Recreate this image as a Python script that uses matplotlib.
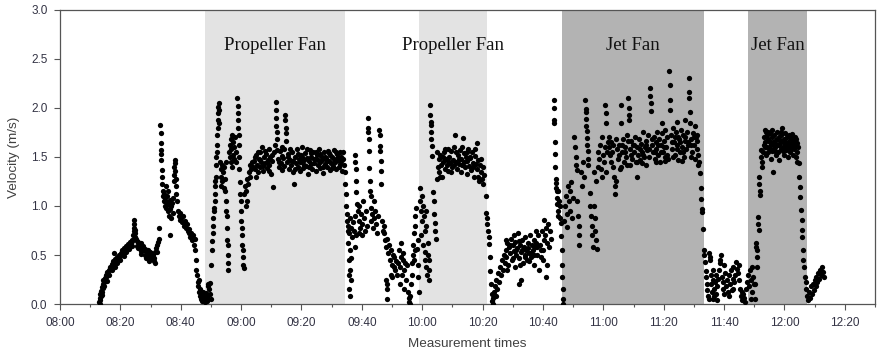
import matplotlib
matplotlib.use("Agg")
from matplotlib import pyplot as plt
from matplotlib.ticker import MultipleLocator, FuncFormatter

# time in minutes after 08:00, velocity in m/s
before_fan = [
    (13.0, 0.02), (13.1, 0.06), (13.2, 0.10), (13.3, 0.04), (13.5, 0.13), (13.6, 0.08), (13.8, 0.17),
    (13.9, 0.12), (14.1, 0.20), (14.2, 0.16), (14.4, 0.24), (14.6, 0.22), (14.8, 0.27), (15.0, 0.25),
    (15.2, 0.30), (15.4, 0.28), (15.7, 0.33), (15.9, 0.31), (16.2, 0.35), (16.5, 0.38), (16.8, 0.37),
    (17.1, 0.41), (17.4, 0.40), (17.7, 0.44), (18.0, 0.43), (18.3, 0.46), (18.6, 0.45), (18.9, 0.48),
    (17.9, 0.52), (19.2, 0.47), (19.5, 0.50), (19.8, 0.49), (20.1, 0.52), (20.4, 0.51), (20.7, 0.55),
    (21.0, 0.53), (21.3, 0.57), (21.6, 0.56), (21.9, 0.59), (22.2, 0.58), (22.5, 0.61), (22.8, 0.60),
    (23.1, 0.63), (23.4, 0.62), (23.7, 0.65), (24.0, 0.64), (24.3, 0.70), (24.4, 0.74), (24.5, 0.78),
    (13.4, 0.00), (14.0, 0.09), (14.7, 0.18), (15.5, 0.23), (16.3, 0.30), (17.2, 0.35), (18.1, 0.38),
    (19.0, 0.42), (20.0, 0.45), (21.1, 0.49), (22.0, 0.53), (23.0, 0.56), (23.9, 0.59),
    (24.5, 0.82), (24.6, 0.86), (24.7, 0.76), (24.8, 0.72), (24.8, 0.68), (25.2, 0.66), (25.5, 0.64),
    (25.8, 0.63), (26.1, 0.61), (26.4, 0.60), (26.7, 0.62), (27.0, 0.58), (27.3, 0.57), (27.6, 0.59),
    (27.9, 0.55), (28.2, 0.56), (28.5, 0.54), (28.8, 0.52), (29.1, 0.55), (29.4, 0.51), (29.7, 0.53),
    (30.0, 0.50), (30.3, 0.52), (30.6, 0.48), (30.9, 0.50), (31.2, 0.47), (31.0, 0.44), (31.5, 0.53),
    (31.8, 0.57), (32.1, 0.60), (32.4, 0.63), (32.7, 0.66), (28.0, 0.50), (29.0, 0.48), (30.0, 0.46),
    (26.0, 0.57), (27.0, 0.54), (32.9, 0.78), (25.6, 0.59), (26.9, 0.51), (28.4, 0.47), (29.6, 0.44),
    (31.4, 0.42), (32.2, 0.53),
    (33.2, 1.83), (33.3, 1.74), (33.4, 1.64), (33.5, 1.57), (33.5, 1.53), (33.6, 1.47), (33.7, 1.37),
    (33.8, 1.30), (33.9, 1.22), (34.0, 1.15), (34.2, 1.10), (34.4, 1.05), (34.5, 1.12), (34.7, 1.00),
    (34.9, 1.08), (35.1, 0.98), (35.3, 1.04), (35.5, 1.10), (35.7, 0.95), (35.9, 1.02), (36.1, 0.90),
    (36.3, 1.06), (36.5, 0.97), (36.7, 1.00), (36.9, 0.88), (37.1, 1.03), (35.0, 1.20), (35.8, 1.15),
    (36.4, 0.70), (37.3, 0.93), (37.5, 1.08),
    (37.7, 1.25), (37.8, 1.32), (37.9, 1.40), (38.0, 1.47), (38.1, 1.44), (38.2, 1.36), (38.3, 1.28),
    (38.4, 1.20), (38.5, 1.12), (38.6, 1.05), (39.0, 0.95), (39.3, 0.90), (39.6, 0.93), (39.9, 0.86),
    (40.2, 0.88), (40.5, 0.84), (40.8, 0.90), (41.1, 0.80), (41.4, 0.85), (41.7, 0.78), (42.0, 0.82),
    (42.3, 0.75), (42.6, 0.72), (42.9, 0.77), (43.2, 0.68), (43.5, 0.72), (43.8, 0.65), (44.1, 0.70),
    (44.4, 0.60), (44.6, 0.66), (44.8, 0.55), (45.0, 0.45), (45.2, 0.35), (45.4, 0.30), (45.6, 0.22),
    (45.8, 0.18), (46.0, 0.25), (46.2, 0.12), (46.3, 0.15), (46.4, 0.08), (46.6, 0.05), (46.8, 0.10),
    (47.0, 0.03), (47.2, 0.07), (47.4, 0.12), (47.6, 0.04), (47.8, 0.09), (48.0, 0.02), (48.2, 0.06),
    (48.4, 0.11), (48.6, 0.03), (48.8, 0.08), (49.0, 0.05), (49.2, 0.20), (49.4, 0.15), (49.6, 0.21),
    (49.8, 0.10), (50.0, 0.05), (49.0, 0.18),
]

propeller_1 = [
    (50.0, 0.40), (50.3, 0.55), (50.5, 0.64), (50.6, 0.72), (50.7, 0.80), (50.8, 0.88), (50.9, 0.95),
    (51.0, 0.98), (51.2, 1.05), (51.3, 1.12), (51.4, 1.20), (51.5, 1.25), (51.6, 1.30), (51.7, 1.42),
    (51.8, 1.50), (51.9, 1.55), (52.0, 1.62), (52.1, 1.72), (52.2, 1.80), (52.3, 1.88), (52.4, 1.95),
    (52.5, 2.01), (52.6, 2.05), (52.7, 1.98), (52.8, 1.85),
    (53.0, 1.45), (53.2, 1.38), (53.4, 1.30), (53.6, 1.42), (53.8, 1.25), (54.0, 1.35), (54.2, 1.18),
    (54.4, 1.40), (54.6, 1.28), (54.8, 1.15), (55.0, 1.45), (53.5, 1.20),
    (55.0, 1.05), (55.1, 0.95), (55.2, 0.90), (55.3, 0.78), (55.4, 0.65), (55.5, 0.60), (55.6, 0.50),
    (55.7, 0.42), (55.8, 0.35),
    (56.0, 1.55), (56.2, 1.62), (56.4, 1.50), (56.6, 1.68), (56.8, 1.58), (57.0, 1.72), (57.2, 1.52),
    (57.4, 1.65), (57.6, 1.48), (57.8, 1.60), (58.0, 1.70), (58.2, 1.55), (58.4, 1.45), (57.1, 1.40),
    (56.5, 1.45),
    (58.8, 2.10), (58.9, 2.02), (59.0, 1.95), (59.0, 1.88), (59.1, 1.80), (59.2, 1.72), (59.3, 1.62),
    (59.2, 1.50), (59.3, 1.38),
    (59.6, 1.24), (59.8, 1.12), (59.9, 1.05), (60.0, 0.95), (60.1, 0.85), (60.2, 0.78), (60.3, 0.70),
    (60.4, 0.60), (60.5, 0.55), (60.6, 0.48), (60.7, 0.40), (60.8, 0.37),
    (61.0, 1.12), (61.3, 1.20), (61.6, 1.15), (61.9, 1.28), (62.2, 1.22), (62.5, 1.35), (62.8, 1.30),
    (63.1, 1.42), (63.4, 1.38), (63.7, 1.45), (64.0, 1.40), (61.5, 1.00), (62.0, 1.05),
    (64.3, 1.46), (64.6, 1.38), (64.9, 1.52), (65.2, 1.42), (65.5, 1.35), (65.8, 1.48), (66.1, 1.55),
    (66.4, 1.40), (66.7, 1.45), (67.0, 1.60), (67.3, 1.36), (67.6, 1.50), (67.9, 1.44), (68.2, 1.53),
    (68.5, 1.39), (68.8, 1.47), (69.1, 1.58), (69.4, 1.42), (69.7, 1.50), (70.0, 1.33), (70.3, 1.46),
    (70.6, 1.19), (70.9, 1.55), (71.2, 1.62),
    (71.4, 2.06), (71.5, 1.98), (71.6, 1.90), (71.7, 1.82), (71.8, 1.75), (71.9, 1.68),
    (72.2, 1.48), (72.5, 1.40), (72.8, 1.56), (73.1, 1.44), (73.4, 1.51), (73.7, 1.37), (74.0, 1.49),
    (74.3, 1.58), (74.6, 1.93), (74.7, 1.88), (74.8, 1.80), (74.9, 1.74), (75.0, 1.66),
    (75.3, 1.45), (75.6, 1.53), (75.9, 1.38), (76.2, 1.47), (76.5, 1.42), (76.8, 1.55), (77.1, 1.35),
    (77.6, 1.22), (77.9, 1.50), (78.2, 1.44), (78.5, 1.58), (78.8, 1.40), (79.1, 1.48), (79.4, 1.36),
    (79.7, 1.52), (80.0, 1.45), (80.3, 1.60), (80.6, 1.39), (80.9, 1.47), (81.2, 1.54), (81.5, 1.41),
    (81.8, 1.49), (82.1, 1.33), (82.4, 1.46), (82.7, 1.57), (83.0, 1.43), (83.3, 1.50), (83.6, 1.38),
    (83.9, 1.55), (84.2, 1.44), (84.5, 1.48), (84.8, 1.36), (85.1, 1.52), (85.4, 1.42), (85.7, 1.58),
    (86.0, 1.45), (86.3, 1.39), (86.6, 1.51), (86.9, 1.47), (87.2, 1.34), (87.5, 1.55), (87.8, 1.43),
    (88.1, 1.49), (88.4, 1.40), (88.7, 1.56), (89.0, 1.46), (89.3, 1.37), (89.6, 1.52), (89.9, 1.44),
    (90.2, 1.50), (90.5, 1.41), (90.8, 1.57), (91.1, 1.45), (91.4, 1.38), (91.7, 1.53), (92.0, 1.47),
    (92.3, 1.40), (92.6, 1.55), (92.9, 1.43), (93.2, 1.50), (93.5, 1.36), (93.8, 1.48),
    (64.5, 1.50), (65.0, 1.30), (65.6, 1.55), (66.3, 1.47), (67.1, 1.41), (67.8, 1.56), (68.6, 1.45),
    (69.3, 1.36), (70.1, 1.52), (72.0, 1.57), (72.7, 1.45), (73.5, 1.60), (74.2, 1.41), (75.5, 1.50),
    (76.3, 1.58), (77.3, 1.46), (78.0, 1.38), (78.7, 1.53), (79.5, 1.45), (80.2, 1.50), (81.0, 1.42),
    (81.7, 1.58), (82.5, 1.40), (83.2, 1.54), (84.0, 1.48), (84.7, 1.55), (85.5, 1.47), (86.2, 1.53),
    (87.0, 1.40), (87.7, 1.50), (88.5, 1.46), (89.2, 1.54), (90.0, 1.39), (90.7, 1.48), (91.5, 1.55),
    (92.2, 1.50), (93.0, 1.46), (93.7, 1.55), (94.0, 1.42),
    (94.3, 1.35), (94.5, 1.22), (94.7, 1.12), (94.9, 1.00),
]

between_1 = [
    (95.0, 0.92), (95.2, 0.85), (95.4, 0.75), (95.5, 0.62), (95.7, 0.45), (95.8, 0.30), (95.9, 0.15),
    (96.0, 0.08), (95.5, 0.80), (95.8, 0.72), (96.1, 0.88), (96.4, 0.78), (96.7, 0.68), (97.0, 0.84),
    (97.3, 0.75), (97.6, 0.90), (97.9, 0.58), (98.2, 0.70), (96.2, 0.55), (96.5, 0.47), (96.0, 0.35),
    (96.3, 0.25),
    (97.8, 1.52), (97.9, 1.45), (98.0, 1.38), (98.1, 1.26), (98.2, 1.14), (98.3, 1.02),
    (98.6, 0.95), (98.9, 0.85), (99.2, 1.00), (99.5, 0.78), (99.8, 0.92), (100.1, 0.82), (100.4, 1.05),
    (100.7, 0.88), (101.0, 0.75), (101.3, 0.95), (101.6, 0.80), (99.0, 0.72), (100.0, 0.70),
    (102.0, 1.90), (102.1, 1.80), (102.2, 1.76), (102.3, 1.68), (102.4, 1.56), (102.5, 1.39),
    (102.6, 1.26), (102.7, 1.15),
    (105.8, 1.78), (105.9, 1.72), (106.0, 1.61), (106.1, 1.56), (106.2, 1.46), (106.3, 1.36),
    (106.4, 1.22),
    (102.9, 0.98), (103.2, 0.85), (103.5, 0.92), (103.8, 0.78), (104.1, 0.88), (104.4, 0.95),
    (104.7, 0.82), (105.0, 0.72), (105.3, 0.90), (106.6, 0.85), (106.9, 0.75), (107.2, 0.80),
    (103.0, 1.10), (104.0, 1.05),
    (107.5, 0.72), (107.8, 0.65), (108.1, 0.58), (108.4, 0.66), (108.7, 0.52), (109.0, 0.60),
    (109.3, 0.45), (109.6, 0.55), (109.9, 0.40), (110.2, 0.50), (110.5, 0.38), (110.8, 0.48),
    (111.1, 0.35), (111.4, 0.44), (111.7, 0.30), (112.0, 0.42), (108.0, 0.25), (108.2, 0.15),
    (108.3, 0.05), (108.5, 0.20), (109.5, 0.30), (110.0, 0.28),
    (112.3, 0.55), (112.6, 0.38), (112.9, 0.48), (113.2, 0.30), (113.5, 0.45), (113.8, 0.52),
    (114.1, 0.35), (114.4, 0.42), (114.7, 0.25), (115.0, 0.40), (113.0, 0.62), (112.5, 0.20),
    (114.0, 0.15), (115.3, 0.12), (115.5, 0.06), (115.7, 0.02), (115.9, 0.08), (116.1, 0.00),
    (116.3, 0.20), (116.5, 0.30), (116.7, 0.42), (116.9, 0.50), (117.1, 0.60), (117.3, 0.72),
    (117.5, 0.80), (117.7, 0.90), (117.9, 0.98), (117.2, 0.45), (117.6, 0.55),
    (118.3, 0.56), (118.5, 0.40), (118.7, 0.28), (118.9, 0.12), (118.6, 0.65),
]

propeller_2 = [
    (119.2, 1.18), (119.4, 1.05), (119.6, 0.95), (119.8, 1.10), (120.0, 0.85), (120.2, 1.00),
    (120.5, 0.90), (120.8, 0.75), (121.1, 0.95), (121.4, 0.80), (119.5, 0.70), (120.3, 0.60),
    (120.9, 0.53), (121.0, 0.45), (121.3, 0.38), (121.6, 0.30), (121.8, 0.62), (122.0, 0.50),
    (122.2, 0.45), (122.3, 0.35), (122.4, 0.25),
    (122.6, 2.03), (122.7, 1.93), (122.8, 1.86), (122.8, 1.83), (122.9, 1.76), (123.0, 1.68),
    (123.1, 1.61), (123.2, 1.51),
    (123.6, 1.14), (123.8, 1.05), (124.0, 0.92), (124.2, 0.83), (124.4, 0.75), (124.6, 0.66),
    (124.8, 1.28), (125.1, 1.40), (125.4, 1.48), (125.7, 1.35), (126.0, 1.52), (126.3, 1.42),
    (126.6, 1.30), (126.9, 1.45), (127.2, 1.55), (127.5, 1.38), (127.8, 1.48), (128.1, 1.42),
    (128.4, 1.58), (128.7, 1.36), (129.0, 1.50), (129.3, 1.44), (129.6, 1.56), (129.9, 1.40),
    (130.2, 1.47), (130.5, 1.60), (130.9, 1.72), (131.2, 1.45), (131.5, 1.38), (131.8, 1.52),
    (132.1, 1.43), (132.4, 1.57), (132.7, 1.35), (133.0, 1.48), (133.3, 1.42), (133.5, 1.69),
    (133.8, 1.54), (134.1, 1.40), (134.4, 1.50), (134.7, 1.33), (135.0, 1.46), (135.3, 1.58),
    (135.6, 1.41), (135.9, 1.49), (136.2, 1.37), (136.5, 1.55), (136.8, 1.44), (137.1, 1.30),
    (137.4, 1.51), (137.7, 1.43), (138.0, 1.64), (138.3, 1.38), (138.6, 1.47), (138.9, 1.25),
    (139.2, 1.42), (139.5, 1.35), (139.8, 1.28), (140.1, 1.40), (140.4, 1.32),
    (125.0, 1.55), (125.9, 1.30), (126.8, 1.50), (127.7, 1.58), (128.6, 1.46), (129.5, 1.35),
    (130.4, 1.42), (131.3, 1.55), (132.2, 1.48), (133.1, 1.60), (134.0, 1.45), (134.9, 1.55),
    (135.8, 1.50), (136.7, 1.40), (137.6, 1.58), (138.5, 1.30), (139.4, 1.48), (140.2, 1.22),
    (141.0, 1.10), (141.2, 0.93), (141.4, 0.88), (141.6, 0.82), (141.8, 0.75), (142.0, 0.68),
    (142.2, 0.61), (142.4, 0.48), (142.6, 0.34), (142.8, 0.20),
]

between_2 = [
    (143.0, 0.10), (143.2, 0.03), (143.4, 0.00), (143.6, 0.06), (143.8, 0.12),
    (144.0, 0.18), (144.3, 0.08), (144.6, 0.25), (144.9, 0.15), (145.2, 0.32), (145.5, 0.22),
    (145.8, 0.38), (146.1, 0.30), (146.4, 0.45), (146.7, 0.35), (147.0, 0.50), (147.3, 0.42),
    (147.6, 0.55), (147.9, 0.48), (148.2, 0.62), (148.5, 0.40), (148.8, 0.58), (149.1, 0.52),
    (149.4, 0.66), (149.7, 0.45), (150.0, 0.60), (150.3, 0.54), (150.6, 0.38), (150.9, 0.63),
    (151.2, 0.50), (151.5, 0.57), (151.8, 0.72), (152.1, 0.47), (152.4, 0.60), (152.7, 0.53),
    (153.0, 0.65), (153.3, 0.42), (153.6, 0.58), (153.9, 0.50), (154.2, 0.68), (154.5, 0.55),
    (154.8, 0.45), (155.1, 0.62), (155.4, 0.52), (155.7, 0.70), (156.0, 0.48), (156.3, 0.60),
    (156.6, 0.55), (156.9, 0.65), (157.2, 0.40), (157.5, 0.58), (157.8, 0.62), (158.1, 0.50),
    (158.4, 0.70), (158.7, 0.35), (159.0, 0.60), (159.3, 0.55), (159.6, 0.75), (159.9, 0.45),
    (160.2, 0.65),
    (148.0, 0.35), (149.0, 0.60), (150.2, 0.47), (151.0, 0.55), (152.0, 0.64), (153.2, 0.55),
    (154.0, 0.48), (155.0, 0.57), (156.2, 0.52), (157.0, 0.50), (158.0, 0.58), (159.2, 0.48),
    (147.8, 0.65), (150.5, 0.70), (152.5, 0.40), (155.5, 0.44), (157.6, 0.75), (160.0, 0.55),
    (152.2, 0.20), (152.6, 0.25),
    (160.5, 0.86), (160.8, 0.70), (161.1, 0.78), (161.4, 0.62), (161.7, 0.82), (162.0, 0.58),
    (162.3, 0.75), (162.6, 0.66), (161.0, 0.28), (161.3, 0.40),
    (163.5, 2.08), (163.6, 2.00), (163.7, 1.88), (163.8, 1.85), (163.9, 1.65), (164.0, 1.53),
    (164.1, 1.40), (164.2, 1.28), (164.3, 1.23), (164.4, 1.18), (164.5, 1.15), (164.6, 1.08),
    (164.7, 1.02),
    (164.9, 1.15), (165.1, 0.95), (165.3, 1.05), (165.5, 0.88), (165.7, 1.00), (165.9, 0.83),
    (165.0, 0.90),
    (166.1, 0.69), (166.2, 0.55), (166.3, 0.40), (166.4, 0.28), (166.5, 0.15), (166.6, 0.05),
    (166.7, 0.00),
]

jet_1 = [
    (167.0, 0.85), (167.3, 1.00), (167.6, 1.10), (167.9, 0.92), (168.2, 1.20), (168.5, 1.05),
    (168.8, 0.95), (169.1, 1.15), (169.4, 1.24), (169.7, 0.88), (170.0, 1.08), (168.0, 0.79),
    (170.4, 1.70), (170.6, 1.60), (170.8, 1.50), (171.0, 1.42), (171.2, 1.37), (171.4, 1.05),
    (171.6, 0.90), (171.8, 0.80), (171.9, 0.70), (172.0, 0.60),
    (174.0, 2.08), (174.1, 1.99), (174.2, 1.96), (174.3, 1.89), (174.4, 1.82), (174.5, 1.77),
    (174.6, 1.69), (174.7, 1.62), (174.8, 1.56), (174.9, 1.48), (175.0, 1.42), (173.5, 1.30),
    (173.2, 1.45), (172.8, 1.20), (172.5, 1.35),
    (175.5, 1.13), (175.7, 1.00), (175.9, 0.90), (176.1, 0.80), (176.3, 0.70), (176.5, 0.58),
    (177.0, 1.00), (177.2, 0.88), (177.4, 0.75), (177.6, 0.65), (177.8, 0.56), (176.8, 1.35),
    (177.5, 1.25),
    (178.1, 1.40), (178.4, 1.55), (178.7, 1.48), (179.0, 1.62), (179.3, 1.38), (179.6, 1.70),
    (179.9, 1.52), (180.2, 1.45), (180.5, 1.60), (180.8, 1.35), (181.1, 1.55), (181.4, 1.65),
    (179.5, 1.30), (180.7, 2.03), (180.8, 1.95), (180.9, 1.85),
    (181.8, 1.60), (182.1, 1.52), (182.4, 1.45), (182.7, 1.65), (183.0, 1.55), (183.3, 1.40),
    (183.6, 1.30), (183.8, 1.20), (184.0, 1.12), (184.2, 1.25), (184.5, 1.58), (184.8, 1.48),
    (185.1, 1.62), (185.4, 1.38), (185.7, 2.03), (185.9, 1.85), (186.2, 1.55), (186.5, 1.68),
    (186.8, 1.45), (187.1, 1.60), (187.4, 1.50), (187.7, 1.72), (188.0, 1.42), (188.3, 2.10),
    (188.4, 2.00), (188.5, 1.93), (188.6, 1.88), (188.9, 1.58), (189.2, 1.66), (189.5, 1.48),
    (189.8, 1.62), (190.1, 1.55), (190.4, 1.70), (190.7, 1.45), (191.0, 1.30), (191.3, 1.60),
    (191.6, 1.52), (191.9, 1.68), (192.2, 1.47), (192.5, 1.63), (192.8, 1.55), (193.1, 1.75),
    (193.4, 1.50), (193.7, 1.60), (194.0, 1.42), (194.3, 1.66), (194.6, 1.57), (194.9, 1.72),
    (195.2, 1.50), (195.5, 2.20), (195.6, 2.12), (195.7, 2.05), (195.8, 1.97), (196.1, 1.62),
    (196.4, 1.55), (196.7, 1.70), (197.0, 1.48), (197.3, 1.65), (197.6, 1.58), (197.9, 1.76),
    (198.2, 1.52), (198.5, 1.68), (198.8, 1.45), (199.1, 1.62), (199.4, 1.74), (199.7, 1.55),
    (200.0, 1.66), (200.3, 1.50), (200.6, 1.78), (200.9, 1.60), (201.2, 1.70), (201.5, 1.48),
    (201.9, 2.38), (202.0, 2.23), (202.1, 2.08), (202.2, 1.98), (202.5, 1.72), (202.8, 1.58),
    (203.1, 1.80), (203.4, 1.65), (203.7, 1.52), (204.0, 1.75), (204.3, 1.62), (204.6, 1.70),
    (204.9, 1.47), (205.2, 1.68), (205.5, 1.55), (205.8, 1.78), (206.1, 1.60), (206.4, 1.72),
    (206.7, 1.50), (207.0, 1.66), (207.3, 1.58), (207.6, 1.75), (207.9, 1.62), (208.3, 2.31),
    (208.4, 2.16), (208.5, 2.10), (208.6, 1.96), (208.8, 1.85), (209.1, 1.68), (209.4, 1.55),
    (209.7, 1.74), (210.0, 1.62), (210.3, 1.48), (210.6, 1.70), (210.9, 1.58), (211.2, 1.66),
    (211.5, 1.52),
    (182.0, 1.70), (183.2, 1.62), (184.3, 1.68), (185.3, 1.52), (186.3, 1.62), (187.3, 1.55),
    (188.1, 1.66), (189.3, 1.52), (190.2, 1.62), (191.2, 1.45), (192.0, 1.58), (193.0, 1.52),
    (194.1, 1.62), (195.0, 1.58), (196.2, 1.68), (197.2, 1.55), (198.0, 1.62), (199.0, 1.55),
    (200.2, 1.60), (201.0, 1.52), (202.7, 1.65), (203.6, 1.70), (204.5, 1.58), (205.4, 1.65),
    (206.3, 1.55), (207.2, 1.70), (208.0, 1.65), (209.2, 1.62), (210.2, 1.70), (211.0, 1.72),
    (186.0, 1.40), (189.0, 1.42), (192.7, 1.44), (197.5, 1.45), (200.5, 1.46), (203.0, 1.50),
    (206.0, 1.46), (209.0, 1.50), (211.3, 1.42), (199.6, 1.85), (204.4, 1.86), (206.9, 1.88),
    (210.5, 1.82),
    (211.8, 1.45), (212.0, 1.34), (212.3, 1.18), (212.5, 1.07), (212.7, 0.97), (212.8, 0.94),
    (213.0, 0.77),
]

between_3 = [
    (213.3, 0.55), (213.5, 0.50), (213.6, 0.43), (213.9, 0.34), (214.1, 0.28), (214.3, 0.20),
    (214.5, 0.14), (214.7, 0.08), (214.9, 0.05),
    (215.0, 0.52), (215.2, 0.45), (215.4, 0.48), (215.6, 0.30), (215.8, 0.20), (216.0, 0.12),
    (216.2, 0.05), (216.4, 0.25), (216.6, 0.15), (216.8, 0.08), (217.0, 0.22), (217.2, 0.30),
    (217.4, 0.10), (217.6, 0.18), (217.8, 0.04), (218.0, 0.26), (218.3, 0.35), (218.6, 0.42),
    (218.9, 0.50), (219.2, 0.28), (219.5, 0.15), (219.8, 0.22), (220.1, 0.10), (220.4, 0.32),
    (220.7, 0.18), (221.0, 0.25), (221.3, 0.12), (221.6, 0.30), (221.9, 0.20), (222.2, 0.35),
    (222.5, 0.14), (222.8, 0.26), (223.1, 0.38), (223.4, 0.22), (223.7, 0.30), (224.0, 0.43),
    (224.3, 0.36), (224.6, 0.32), (224.9, 0.25), (225.2, 0.15), (225.5, 0.08), (225.8, 0.12),
    (226.1, 0.04), (226.4, 0.10), (226.7, 0.06), (227.0, 0.02), (227.3, 0.15), (227.6, 0.22),
    (220.0, 0.40), (218.8, 0.45), (216.5, 0.35), (221.5, 0.08), (223.0, 0.15), (225.0, 0.40),
]

jet_2 = [
    (227.9, 0.30), (228.2, 0.18), (228.5, 0.35), (228.8, 0.25), (229.1, 0.38), (229.4, 0.12),
    (229.7, 0.28), (230.0, 0.20), (230.3, 0.05), (229.0, 0.05),
    (230.5, 0.62), (230.7, 0.58), (230.9, 0.48), (231.0, 0.55), (231.2, 0.89), (231.4, 0.82),
    (231.5, 0.76), (231.6, 1.30), (231.7, 1.22), (231.8, 1.15), (231.9, 1.11), (230.2, 0.20),
    (230.8, 0.38),
    (232.1, 1.57), (232.3, 1.50), (232.5, 1.45), (232.7, 1.40), (232.9, 1.55), (233.1, 1.62),
    (233.3, 1.70), (233.5, 1.78), (233.7, 1.65), (233.9, 1.75), (234.1, 1.60), (234.3, 1.72),
    (234.5, 1.68), (234.7, 1.55), (234.9, 1.66), (235.1, 1.74), (235.3, 1.58), (235.5, 1.62),
    (235.7, 1.48), (235.9, 1.70), (236.1, 1.65), (236.3, 1.35), (236.5, 1.58), (236.7, 1.72),
    (236.9, 1.60), (237.1, 1.67), (237.3, 1.52), (237.5, 1.75), (237.7, 1.62), (237.9, 1.55),
    (238.1, 1.70), (238.3, 1.47), (238.5, 1.64), (238.7, 1.58), (238.9, 1.72), (239.1, 1.66),
    (239.3, 1.80), (239.5, 1.60), (239.7, 1.68), (239.9, 1.52), (240.1, 1.74), (240.3, 1.63),
    (240.5, 1.57), (240.7, 1.70), (240.9, 1.60), (241.1, 1.65), (241.3, 1.50), (241.5, 1.72),
    (241.7, 1.62), (241.9, 1.55), (242.1, 1.68), (242.3, 1.58), (242.5, 1.73), (242.7, 1.60),
    (242.9, 1.52), (243.1, 1.66), (243.3, 1.58), (243.5, 1.62), (243.7, 1.50), (243.9, 1.68),
    (244.1, 1.55), (244.3, 1.45), (244.5, 1.60),
    (233.4, 1.60), (234.0, 1.52), (234.6, 1.76), (235.2, 1.65), (235.8, 1.56), (236.4, 1.64),
    (237.0, 1.56), (237.6, 1.68), (238.2, 1.62), (238.8, 1.66), (239.4, 1.56), (240.0, 1.66),
    (240.6, 1.64), (241.2, 1.58), (241.8, 1.70), (242.4, 1.64), (243.0, 1.60), (243.6, 1.70),
    (244.2, 1.64), (236.0, 1.78), (239.0, 1.76),
    (244.7, 1.44), (244.9, 1.30), (245.1, 1.19), (245.3, 1.09), (245.5, 0.96), (245.7, 0.86),
    (245.8, 0.76), (245.9, 0.68), (246.1, 0.55), (246.3, 0.45), (246.5, 0.38), (246.7, 0.28),
    (247.0, 0.22), (247.3, 0.15),
]

after_fan = [
    (247.6, 0.08), (247.9, 0.04), (248.2, 0.12), (248.5, 0.06), (248.8, 0.18), (249.1, 0.10),
    (249.4, 0.20), (249.7, 0.14), (250.0, 0.25), (250.3, 0.18), (250.6, 0.28), (250.9, 0.22),
    (251.2, 0.32), (251.5, 0.26), (251.8, 0.35), (252.1, 0.30), (252.4, 0.38), (252.7, 0.33),
    (253.0, 0.28),
]

fan_labels = ["Propeller Fan", "Propeller Fan", "Jet Fan", "Jet Fan"]
fan_start = [48.0, 118.9, 166.3, 227.9]
fan_end = [94.5, 141.4, 213.2, 247.5]
fan_colors = ["#e3e3e3", "#e3e3e3", "#b3b3b3", "#b3b3b3"]

segments = [before_fan, propeller_1, between_1, propeller_2, between_2,
            jet_1, between_3, jet_2, after_fan]

fig = plt.figure(figsize=(8.77, 3.53), dpi=100)
ax = fig.add_axes([0.0684, 0.1388, 0.9293, 0.8329])

for s, e, c, lab in zip(fan_start, fan_end, fan_colors, fan_labels):
    ax.axvspan(s, e, color=c, lw=0, zorder=0)
    ax.text((s + e) / 2, 2.64, lab, ha="center", va="center", fontsize=13.5,
            family="Liberation Serif", color="#111111")

for seg in segments:
    t = [p[0] for p in seg]
    v = [p[1] for p in seg]
    ax.plot(t, v, "o", color="black", ms=3.8, mew=0, zorder=3)

ax.set_xlim(0, 270)
ax.set_ylim(0, 3.0)
ax.xaxis.set_major_locator(MultipleLocator(20))
ax.xaxis.set_minor_locator(MultipleLocator(10))
ax.yaxis.set_major_locator(MultipleLocator(0.5))
ax.xaxis.set_major_formatter(FuncFormatter(
    lambda m, pos: "%02d:%02d" % (8 + int(round(m)) // 60, int(round(m)) % 60)))
ax.yaxis.set_major_formatter(FuncFormatter(lambda y, pos: "%.1f" % y))

for sp in ax.spines.values():
    sp.set_color("#555555")
    sp.set_linewidth(0.9)
ax.tick_params(which="major", direction="out", length=4, width=0.8, color="#555555",
               labelsize=8.5, labelcolor="#333344", pad=5)
ax.tick_params(which="minor", direction="out", length=2, width=0.8, color="#555555")
for lbl in ax.get_xticklabels() + ax.get_yticklabels():
    lbl.set_family("Liberation Sans")

ax.set_xlabel("Measurement times", fontsize=9.7, family="Liberation Sans", color="#404040",
              labelpad=7)
ax.set_ylabel("Velocity (m/s)", fontsize=9.7, family="Liberation Sans", color="#404040",
              labelpad=8)

fig.savefig("out.png", dpi=100)
